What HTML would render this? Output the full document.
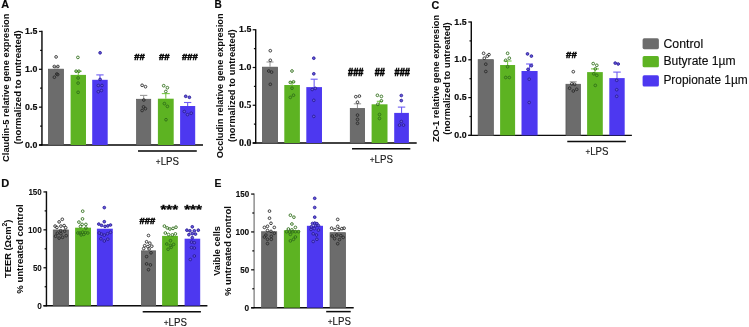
<!DOCTYPE html>
<html><head><meta charset="utf-8"><style>html,body{margin:0;padding:0;background:#fff;width:749px;height:327px;overflow:hidden}svg{display:block}</style></head>
<body>
<svg xmlns="http://www.w3.org/2000/svg" width="749" height="327" viewBox="0 0 749 327">
<defs><filter id="bl" x="0" y="0" width="749" height="327" filterUnits="userSpaceOnUse"><feConvolveMatrix order="3" kernelMatrix="0.00001 0.00381 0.00001 0.00381 0.98471 0.00381 0.00001 0.00381 0.00001" edgeMode="duplicate"/></filter></defs>
<g filter="url(#bl)">
<rect width="749" height="327" fill="#fff"/>
<text x="1.3" y="8.3" font-family="Liberation Sans" font-size="10" font-weight="bold" text-anchor="start" fill="#000" textLength="7.9" lengthAdjust="spacingAndGlyphs" stroke="#000" stroke-width="0.15">A</text>
<text transform="translate(9.4,87.75) rotate(-90)" font-family="Liberation Sans" font-size="9.4" font-weight="bold" text-anchor="middle" fill="#000" stroke="#000" stroke-width="0" textLength="148.3" lengthAdjust="spacingAndGlyphs">Claudin-5 relative gene expresion</text>
<text transform="translate(20.8,87.35) rotate(-90)" font-family="Liberation Sans" font-size="9.4" font-weight="bold" text-anchor="middle" fill="#000" stroke="#000" stroke-width="0" textLength="114" lengthAdjust="spacingAndGlyphs">(normalized to untreated)</text>
<line x1="41.95" y1="30.849999999999998" x2="41.95" y2="145.6" stroke="#000" stroke-width="1.4"/>
<line x1="38.95" y1="145.0" x2="203" y2="145.0" stroke="#000" stroke-width="1.4"/>
<line x1="38.95" y1="145.0" x2="41.95" y2="145.0" stroke="#000" stroke-width="1.2"/>
<line x1="38.95" y1="107.15" x2="41.95" y2="107.15" stroke="#000" stroke-width="1.2"/>
<line x1="38.95" y1="69.3" x2="41.95" y2="69.3" stroke="#000" stroke-width="1.2"/>
<line x1="38.95" y1="31.45" x2="41.95" y2="31.45" stroke="#000" stroke-width="1.2"/>
<line x1="40.150000000000006" y1="126.08" x2="41.95" y2="126.08" stroke="#000" stroke-width="1.2"/>
<line x1="40.150000000000006" y1="88.22" x2="41.95" y2="88.22" stroke="#000" stroke-width="1.2"/>
<line x1="40.150000000000006" y1="50.38" x2="41.95" y2="50.38" stroke="#000" stroke-width="1.2"/>
<text x="37.3" y="34.05" font-family="Liberation Sans" font-size="8.8" font-weight="bold" text-anchor="end" fill="#000" stroke="#000" stroke-width="0.15">1.5</text>
<text x="37.3" y="71.9" font-family="Liberation Sans" font-size="8.8" font-weight="bold" text-anchor="end" fill="#000" stroke="#000" stroke-width="0.15">1.0</text>
<text x="37.3" y="109.75" font-family="Liberation Sans" font-size="8.8" font-weight="bold" text-anchor="end" fill="#000" stroke="#000" stroke-width="0.15">0.5</text>
<text x="37.3" y="147.6" font-family="Liberation Sans" font-size="8.8" font-weight="bold" text-anchor="end" fill="#000" stroke="#000" stroke-width="0.15">0.0</text>
<rect x="48.35" y="69.15" width="15.2" height="75.85" fill="#6c6c6c" stroke="#555" stroke-width="0.7"/>
<line x1="55.95" y1="68.8" x2="55.95" y2="66.8" stroke="#999999" stroke-width="1.1"/>
<line x1="52.95" y1="66.8" x2="58.95" y2="66.8" stroke="#999999" stroke-width="1.1"/>
<rect x="70.6" y="74.9" width="15.4" height="70.1" fill="#5db322"/>
<line x1="78.3" y1="74.9" x2="78.3" y2="71.2" stroke="#78c846" stroke-width="1.1"/>
<line x1="74.8" y1="71.2" x2="81.8" y2="71.2" stroke="#78c846" stroke-width="1.1"/>
<rect x="92.2" y="79.8" width="15.5" height="65.2" fill="#4e39f0"/>
<line x1="99.95" y1="79.8" x2="99.95" y2="74.9" stroke="#6d5cf3" stroke-width="1.1"/>
<line x1="96.3" y1="74.9" x2="103.60000000000001" y2="74.9" stroke="#6d5cf3" stroke-width="1.1"/>
<rect x="136.55" y="99.25" width="14.2" height="45.75" fill="#6c6c6c" stroke="#555" stroke-width="0.7"/>
<line x1="143.64999999999998" y1="98.9" x2="143.64999999999998" y2="95.4" stroke="#999999" stroke-width="1.1"/>
<line x1="139.99999999999997" y1="95.4" x2="147.29999999999998" y2="95.4" stroke="#999999" stroke-width="1.1"/>
<rect x="157.9" y="98.7" width="15.8" height="46.3" fill="#5db322"/>
<line x1="165.8" y1="98.7" x2="165.8" y2="93.6" stroke="#78c846" stroke-width="1.1"/>
<line x1="161.8" y1="93.6" x2="169.8" y2="93.6" stroke="#78c846" stroke-width="1.1"/>
<rect x="180.1" y="106" width="15.1" height="39.0" fill="#4e39f0"/>
<line x1="187.64999999999998" y1="106" x2="187.64999999999998" y2="102.5" stroke="#6d5cf3" stroke-width="1.1"/>
<line x1="183.99999999999997" y1="102.5" x2="191.29999999999998" y2="102.5" stroke="#6d5cf3" stroke-width="1.1"/>
<circle cx="56.1" cy="56.9" r="1.35" fill="none" stroke="#2a2a2a" stroke-width="0.9"/>
<circle cx="54.3" cy="66.5" r="1.35" fill="none" stroke="#2a2a2a" stroke-width="0.9"/>
<circle cx="57.9" cy="66.5" r="1.35" fill="none" stroke="#2a2a2a" stroke-width="0.9"/>
<circle cx="56.8" cy="74" r="1.35" fill="none" stroke="#2a2a2a" stroke-width="0.9"/>
<circle cx="57.7" cy="74.6" r="1.35" fill="none" stroke="#2a2a2a" stroke-width="0.9"/>
<circle cx="54.4" cy="77.2" r="1.35" fill="none" stroke="#2a2a2a" stroke-width="0.9"/>
<circle cx="77.9" cy="57.4" r="1.35" fill="none" stroke="#306e1a" stroke-width="0.9"/>
<circle cx="76.1" cy="71.2" r="1.35" fill="none" stroke="#306e1a" stroke-width="0.9"/>
<circle cx="78.9" cy="71.2" r="1.35" fill="none" stroke="#306e1a" stroke-width="0.9"/>
<circle cx="78.1" cy="78" r="1.35" fill="none" stroke="#306e1a" stroke-width="0.9"/>
<circle cx="78.1" cy="83.1" r="1.35" fill="none" stroke="#306e1a" stroke-width="0.9"/>
<circle cx="78.1" cy="92.3" r="1.35" fill="none" stroke="#306e1a" stroke-width="0.9"/>
<circle cx="100.1" cy="52.8" r="1.35" fill="#6658e0" stroke="#281b95" stroke-width="0.9"/>
<circle cx="100.1" cy="79.4" r="1.35" fill="#6658e0" stroke="#281b95" stroke-width="0.9"/>
<circle cx="98.3" cy="85.5" r="1.35" fill="#6658e0" stroke="#281b95" stroke-width="0.9"/>
<circle cx="102" cy="85.5" r="1.35" fill="#6658e0" stroke="#281b95" stroke-width="0.9"/>
<circle cx="98.3" cy="91.7" r="1.35" fill="#6658e0" stroke="#281b95" stroke-width="0.9"/>
<circle cx="101.4" cy="90.5" r="1.35" fill="#6658e0" stroke="#281b95" stroke-width="0.9"/>
<circle cx="142.1" cy="85.3" r="1.35" fill="none" stroke="#2a2a2a" stroke-width="0.9"/>
<circle cx="145.5" cy="86.7" r="1.35" fill="none" stroke="#2a2a2a" stroke-width="0.9"/>
<circle cx="143.8" cy="100" r="1.35" fill="none" stroke="#2a2a2a" stroke-width="0.9"/>
<circle cx="143.5" cy="106.9" r="1.35" fill="none" stroke="#2a2a2a" stroke-width="0.9"/>
<circle cx="145.4" cy="108.7" r="1.35" fill="none" stroke="#2a2a2a" stroke-width="0.9"/>
<circle cx="142.1" cy="110.5" r="1.35" fill="none" stroke="#2a2a2a" stroke-width="0.9"/>
<circle cx="163.7" cy="85.7" r="1.35" fill="none" stroke="#306e1a" stroke-width="0.9"/>
<circle cx="167.4" cy="87.7" r="1.35" fill="none" stroke="#306e1a" stroke-width="0.9"/>
<circle cx="165.8" cy="91.5" r="1.35" fill="none" stroke="#306e1a" stroke-width="0.9"/>
<circle cx="164.4" cy="103.6" r="1.35" fill="none" stroke="#306e1a" stroke-width="0.9"/>
<circle cx="167.4" cy="106.4" r="1.35" fill="none" stroke="#306e1a" stroke-width="0.9"/>
<circle cx="166" cy="119.7" r="1.35" fill="none" stroke="#306e1a" stroke-width="0.9"/>
<circle cx="185.7" cy="96.3" r="1.35" fill="#6658e0" stroke="#281b95" stroke-width="0.9"/>
<circle cx="189.4" cy="97.3" r="1.35" fill="#6658e0" stroke="#281b95" stroke-width="0.9"/>
<circle cx="184.3" cy="111.5" r="1.35" fill="#6658e0" stroke="#281b95" stroke-width="0.9"/>
<circle cx="187.5" cy="114.6" r="1.35" fill="#6658e0" stroke="#281b95" stroke-width="0.9"/>
<circle cx="191.2" cy="113.2" r="1.35" fill="#6658e0" stroke="#281b95" stroke-width="0.9"/>
<text x="139.5" y="59.8" font-family="Liberation Sans" font-size="9.4" font-weight="bold" text-anchor="middle" fill="#000" textLength="10.6" lengthAdjust="spacingAndGlyphs" stroke="#000" stroke-width="0.55">##</text>
<text x="164.2" y="59.8" font-family="Liberation Sans" font-size="9.4" font-weight="bold" text-anchor="middle" fill="#000" textLength="10.6" lengthAdjust="spacingAndGlyphs" stroke="#000" stroke-width="0.55">##</text>
<text x="189.9" y="59.8" font-family="Liberation Sans" font-size="9.4" font-weight="bold" text-anchor="middle" fill="#000" textLength="15.9" lengthAdjust="spacingAndGlyphs" stroke="#000" stroke-width="0.55">###</text>
<line x1="138" y1="151.0" x2="196.8" y2="151.0" stroke="#000" stroke-width="1.5"/>
<text x="167.4" y="164.8" font-family="Liberation Sans" font-size="10.2" font-weight="normal" text-anchor="middle" fill="#111" textLength="23.1" lengthAdjust="spacingAndGlyphs" stroke="#111" stroke-width="0.12"><tspan font-size="8.6">+</tspan>LPS</text>
<text x="214.4" y="8.3" font-family="Liberation Sans" font-size="10" font-weight="bold" text-anchor="start" fill="#000" textLength="7.3" lengthAdjust="spacingAndGlyphs" stroke="#000" stroke-width="0.15">B</text>
<text transform="translate(223.1,85.8) rotate(-90)" font-family="Liberation Sans" font-size="9.4" font-weight="bold" text-anchor="middle" fill="#000" stroke="#000" stroke-width="0" textLength="144.8" lengthAdjust="spacingAndGlyphs">Occludin relative gene expresion</text>
<text transform="translate(234.5,85.75) rotate(-90)" font-family="Liberation Sans" font-size="9.4" font-weight="bold" text-anchor="middle" fill="#000" stroke="#000" stroke-width="0" textLength="112.6" lengthAdjust="spacingAndGlyphs">(normalized to untreated)</text>
<line x1="255.7" y1="29.15" x2="255.7" y2="143.6" stroke="#000" stroke-width="1.4"/>
<line x1="252.7" y1="143.0" x2="416.7" y2="143.0" stroke="#000" stroke-width="1.4"/>
<line x1="252.7" y1="143.0" x2="255.7" y2="143.0" stroke="#000" stroke-width="1.2"/>
<line x1="252.7" y1="105.25" x2="255.7" y2="105.25" stroke="#000" stroke-width="1.2"/>
<line x1="252.7" y1="67.5" x2="255.7" y2="67.5" stroke="#000" stroke-width="1.2"/>
<line x1="252.7" y1="29.75" x2="255.7" y2="29.75" stroke="#000" stroke-width="1.2"/>
<line x1="253.89999999999998" y1="124.12" x2="255.7" y2="124.12" stroke="#000" stroke-width="1.2"/>
<line x1="253.89999999999998" y1="86.38" x2="255.7" y2="86.38" stroke="#000" stroke-width="1.2"/>
<line x1="253.89999999999998" y1="48.62" x2="255.7" y2="48.62" stroke="#000" stroke-width="1.2"/>
<text x="251.3" y="32.35" font-family="Liberation Sans" font-size="8.8" font-weight="bold" text-anchor="end" fill="#000" stroke="#000" stroke-width="0.15">1.5</text>
<text x="251.3" y="70.1" font-family="Liberation Sans" font-size="8.8" font-weight="bold" text-anchor="end" fill="#000" stroke="#000" stroke-width="0.15">1.0</text>
<text x="251.3" y="107.85" font-family="Liberation Serif" font-size="9.8" font-weight="bold" text-anchor="end" fill="#000" stroke="#000" stroke-width="0.15">0.5</text>
<text x="251.3" y="145.6" font-family="Liberation Serif" font-size="9.8" font-weight="bold" text-anchor="end" fill="#000" stroke="#000" stroke-width="0.15">0.0</text>
<rect x="262.35" y="67.15" width="15.3" height="75.85" fill="#6c6c6c" stroke="#555" stroke-width="0.7"/>
<line x1="270.0" y1="66.8" x2="270.0" y2="62" stroke="#999999" stroke-width="1.1"/>
<line x1="266.5" y1="62" x2="273.5" y2="62" stroke="#999999" stroke-width="1.1"/>
<rect x="284.3" y="85" width="15.6" height="58.0" fill="#5db322"/>
<line x1="292.1" y1="85" x2="292.1" y2="82" stroke="#78c846" stroke-width="1.1"/>
<line x1="289.1" y1="82" x2="295.1" y2="82" stroke="#78c846" stroke-width="1.1"/>
<rect x="306.3" y="87.1" width="15.7" height="55.9" fill="#4e39f0"/>
<line x1="314.15" y1="87.1" x2="314.15" y2="79.2" stroke="#6d5cf3" stroke-width="1.1"/>
<line x1="310.65" y1="79.2" x2="317.65" y2="79.2" stroke="#6d5cf3" stroke-width="1.1"/>
<circle cx="270.3" cy="50.7" r="1.35" fill="none" stroke="#2a2a2a" stroke-width="0.9"/>
<circle cx="270.3" cy="60.3" r="1.35" fill="none" stroke="#2a2a2a" stroke-width="0.9"/>
<circle cx="268.8" cy="71" r="1.35" fill="none" stroke="#2a2a2a" stroke-width="0.9"/>
<circle cx="271.6" cy="72.1" r="1.35" fill="none" stroke="#2a2a2a" stroke-width="0.9"/>
<circle cx="270.3" cy="84.3" r="1.35" fill="none" stroke="#2a2a2a" stroke-width="0.9"/>
<circle cx="292" cy="71" r="1.35" fill="none" stroke="#306e1a" stroke-width="0.9"/>
<circle cx="290.3" cy="82.4" r="1.35" fill="none" stroke="#306e1a" stroke-width="0.9"/>
<circle cx="293.5" cy="81.8" r="1.35" fill="none" stroke="#306e1a" stroke-width="0.9"/>
<circle cx="292" cy="88.2" r="1.35" fill="none" stroke="#306e1a" stroke-width="0.9"/>
<circle cx="290.3" cy="97.4" r="1.35" fill="none" stroke="#306e1a" stroke-width="0.9"/>
<circle cx="293.5" cy="95.2" r="1.35" fill="none" stroke="#306e1a" stroke-width="0.9"/>
<circle cx="313.8" cy="58.2" r="1.35" fill="#6658e0" stroke="#281b95" stroke-width="0.9"/>
<circle cx="313.8" cy="73.8" r="1.35" fill="#6658e0" stroke="#281b95" stroke-width="0.9"/>
<circle cx="312.2" cy="89.5" r="1.35" fill="#6658e0" stroke="#281b95" stroke-width="0.9"/>
<circle cx="315.3" cy="88.4" r="1.35" fill="#6658e0" stroke="#281b95" stroke-width="0.9"/>
<circle cx="313.8" cy="100.3" r="1.35" fill="#6658e0" stroke="#281b95" stroke-width="0.9"/>
<circle cx="313.8" cy="116.4" r="1.35" fill="#6658e0" stroke="#281b95" stroke-width="0.9"/>
<rect x="350.25" y="108.45" width="14.4" height="34.55" fill="#6c6c6c" stroke="#555" stroke-width="0.7"/>
<line x1="357.45" y1="108.1" x2="357.45" y2="103.8" stroke="#999999" stroke-width="1.1"/>
<line x1="353.8" y1="103.8" x2="361.09999999999997" y2="103.8" stroke="#999999" stroke-width="1.1"/>
<rect x="371.6" y="104.3" width="15.9" height="38.7" fill="#5db322"/>
<line x1="379.55" y1="104.3" x2="379.55" y2="101.3" stroke="#78c846" stroke-width="1.1"/>
<line x1="376.8" y1="101.3" x2="382.3" y2="101.3" stroke="#78c846" stroke-width="1.1"/>
<rect x="394.2" y="112.9" width="14.7" height="30.1" fill="#4e39f0"/>
<line x1="401.54999999999995" y1="112.9" x2="401.54999999999995" y2="107.1" stroke="#6d5cf3" stroke-width="1.1"/>
<line x1="397.84999999999997" y1="107.1" x2="405.24999999999994" y2="107.1" stroke="#6d5cf3" stroke-width="1.1"/>
<circle cx="355.8" cy="96.7" r="1.35" fill="none" stroke="#2a2a2a" stroke-width="0.9"/>
<circle cx="359.4" cy="96.1" r="1.35" fill="none" stroke="#2a2a2a" stroke-width="0.9"/>
<circle cx="357.5" cy="102.2" r="1.35" fill="none" stroke="#2a2a2a" stroke-width="0.9"/>
<circle cx="357.5" cy="115.1" r="1.35" fill="none" stroke="#2a2a2a" stroke-width="0.9"/>
<circle cx="357.5" cy="119.4" r="1.35" fill="none" stroke="#2a2a2a" stroke-width="0.9"/>
<circle cx="357.5" cy="123.3" r="1.35" fill="none" stroke="#2a2a2a" stroke-width="0.9"/>
<circle cx="377.4" cy="95.3" r="1.35" fill="none" stroke="#306e1a" stroke-width="0.9"/>
<circle cx="381.4" cy="96.4" r="1.35" fill="none" stroke="#306e1a" stroke-width="0.9"/>
<circle cx="381.4" cy="100.8" r="1.35" fill="none" stroke="#306e1a" stroke-width="0.9"/>
<circle cx="377.8" cy="104.3" r="1.35" fill="none" stroke="#306e1a" stroke-width="0.9"/>
<circle cx="379.5" cy="114.5" r="1.35" fill="none" stroke="#306e1a" stroke-width="0.9"/>
<circle cx="379.5" cy="118.5" r="1.35" fill="none" stroke="#306e1a" stroke-width="0.9"/>
<circle cx="401.3" cy="95.5" r="1.35" fill="#6658e0" stroke="#281b95" stroke-width="0.9"/>
<circle cx="401.3" cy="100.6" r="1.35" fill="#6658e0" stroke="#281b95" stroke-width="0.9"/>
<circle cx="401.3" cy="121.5" r="1.35" fill="#6658e0" stroke="#281b95" stroke-width="0.9"/>
<circle cx="399.5" cy="125.1" r="1.35" fill="#6658e0" stroke="#281b95" stroke-width="0.9"/>
<circle cx="403.5" cy="125.1" r="1.35" fill="#6658e0" stroke="#281b95" stroke-width="0.9"/>
<text x="355.8" y="76.3" font-family="Liberation Sans" font-size="10" font-weight="bold" text-anchor="middle" fill="#000" textLength="15.4" lengthAdjust="spacingAndGlyphs" stroke="#000" stroke-width="0.55">###</text>
<text x="379.7" y="76.3" font-family="Liberation Sans" font-size="10" font-weight="bold" text-anchor="middle" fill="#000" textLength="10.1" lengthAdjust="spacingAndGlyphs" stroke="#000" stroke-width="0.55">##</text>
<text x="402.3" y="76.3" font-family="Liberation Sans" font-size="10" font-weight="bold" text-anchor="middle" fill="#000" textLength="15.4" lengthAdjust="spacingAndGlyphs" stroke="#000" stroke-width="0.55">###</text>
<line x1="352" y1="148.8" x2="410.3" y2="148.8" stroke="#000" stroke-width="1.5"/>
<text x="381.3" y="163.0" font-family="Liberation Sans" font-size="10.2" font-weight="normal" text-anchor="middle" fill="#111" textLength="23.1" lengthAdjust="spacingAndGlyphs" stroke="#111" stroke-width="0.12"><tspan font-size="8.6">+</tspan>LPS</text>
<text x="431.6" y="8.6" font-family="Liberation Sans" font-size="10" font-weight="bold" text-anchor="start" fill="#000" textLength="7.8" lengthAdjust="spacingAndGlyphs" stroke="#000" stroke-width="0.15">C</text>
<text transform="translate(438.8,78.5) rotate(-90)" font-family="Liberation Sans" font-size="9.4" font-weight="bold" text-anchor="middle" fill="#000" stroke="#000" stroke-width="0" textLength="127.2" lengthAdjust="spacingAndGlyphs">ZO-1 relative gene expresion</text>
<text transform="translate(450.2,78.5) rotate(-90)" font-family="Liberation Sans" font-size="9.4" font-weight="bold" text-anchor="middle" fill="#000" stroke="#000" stroke-width="0" textLength="112.5" lengthAdjust="spacingAndGlyphs">(normalized to untreated)</text>
<line x1="471.3" y1="21.4" x2="471.3" y2="136.0" stroke="#000" stroke-width="1.4"/>
<line x1="468.3" y1="135.4" x2="631.9" y2="135.4" stroke="#000" stroke-width="1.4"/>
<line x1="468.3" y1="135.4" x2="471.3" y2="135.4" stroke="#000" stroke-width="1.2"/>
<line x1="468.3" y1="97.6" x2="471.3" y2="97.6" stroke="#000" stroke-width="1.2"/>
<line x1="468.3" y1="59.8" x2="471.3" y2="59.8" stroke="#000" stroke-width="1.2"/>
<line x1="468.3" y1="22.0" x2="471.3" y2="22.0" stroke="#000" stroke-width="1.2"/>
<line x1="469.5" y1="116.5" x2="471.3" y2="116.5" stroke="#000" stroke-width="1.2"/>
<line x1="469.5" y1="78.7" x2="471.3" y2="78.7" stroke="#000" stroke-width="1.2"/>
<line x1="469.5" y1="40.9" x2="471.3" y2="40.9" stroke="#000" stroke-width="1.2"/>
<text x="466.6" y="24.6" font-family="Liberation Sans" font-size="8.8" font-weight="bold" text-anchor="end" fill="#000" stroke="#000" stroke-width="0.15">1.5</text>
<text x="466.6" y="62.4" font-family="Liberation Sans" font-size="8.8" font-weight="bold" text-anchor="end" fill="#000" stroke="#000" stroke-width="0.15">1.0</text>
<text x="466.6" y="100.2" font-family="Liberation Sans" font-size="8.8" font-weight="bold" text-anchor="end" fill="#000" stroke="#000" stroke-width="0.15">0.5</text>
<text x="466.6" y="138.0" font-family="Liberation Sans" font-size="8.8" font-weight="bold" text-anchor="end" fill="#000" stroke="#000" stroke-width="0.15">0.0</text>
<rect x="478.15" y="59.65" width="15.2" height="75.75" fill="#6c6c6c" stroke="#555" stroke-width="0.7"/>
<rect x="500.1" y="65" width="15.0" height="70.4" fill="#5db322"/>
<line x1="507.6" y1="65" x2="507.6" y2="61" stroke="#78c846" stroke-width="1.1"/>
<line x1="503.6" y1="61" x2="511.6" y2="61" stroke="#78c846" stroke-width="1.1"/>
<rect x="521.5" y="71" width="16.1" height="64.4" fill="#4e39f0"/>
<line x1="529.55" y1="71" x2="529.55" y2="64" stroke="#6d5cf3" stroke-width="1.1"/>
<line x1="526.05" y1="64" x2="533.05" y2="64" stroke="#6d5cf3" stroke-width="1.1"/>
<circle cx="483.6" cy="53.3" r="1.35" fill="none" stroke="#2a2a2a" stroke-width="0.9"/>
<circle cx="484.3" cy="58.2" r="1.35" fill="none" stroke="#2a2a2a" stroke-width="0.9"/>
<circle cx="487.3" cy="56.1" r="1.35" fill="none" stroke="#2a2a2a" stroke-width="0.9"/>
<circle cx="489" cy="54.6" r="1.35" fill="none" stroke="#2a2a2a" stroke-width="0.9"/>
<circle cx="485.8" cy="64.2" r="1.35" fill="none" stroke="#2a2a2a" stroke-width="0.9"/>
<circle cx="485.8" cy="71.5" r="1.35" fill="none" stroke="#2a2a2a" stroke-width="0.9"/>
<circle cx="507.6" cy="53.3" r="1.35" fill="none" stroke="#306e1a" stroke-width="0.9"/>
<circle cx="505.7" cy="60.3" r="1.35" fill="none" stroke="#306e1a" stroke-width="0.9"/>
<circle cx="509.3" cy="58.2" r="1.35" fill="none" stroke="#306e1a" stroke-width="0.9"/>
<circle cx="507.6" cy="66.8" r="1.35" fill="none" stroke="#306e1a" stroke-width="0.9"/>
<circle cx="505.7" cy="77.5" r="1.35" fill="none" stroke="#306e1a" stroke-width="0.9"/>
<circle cx="509.3" cy="77.5" r="1.35" fill="none" stroke="#306e1a" stroke-width="0.9"/>
<circle cx="527.5" cy="53.9" r="1.35" fill="#6658e0" stroke="#281b95" stroke-width="0.9"/>
<circle cx="531.4" cy="56.1" r="1.35" fill="#6658e0" stroke="#281b95" stroke-width="0.9"/>
<circle cx="531.4" cy="65.7" r="1.35" fill="#6658e0" stroke="#281b95" stroke-width="0.9"/>
<circle cx="528" cy="69.3" r="1.35" fill="#6658e0" stroke="#281b95" stroke-width="0.9"/>
<circle cx="529.2" cy="79.2" r="1.35" fill="#6658e0" stroke="#281b95" stroke-width="0.9"/>
<circle cx="529.2" cy="102.5" r="1.35" fill="#6658e0" stroke="#281b95" stroke-width="0.9"/>
<rect x="565.95" y="84.25" width="14.6" height="51.15" fill="#6c6c6c" stroke="#555" stroke-width="0.7"/>
<line x1="573.25" y1="83.9" x2="573.25" y2="81.8" stroke="#999999" stroke-width="1.1"/>
<line x1="569.75" y1="81.8" x2="576.75" y2="81.8" stroke="#999999" stroke-width="1.1"/>
<rect x="587.1" y="72.1" width="15.7" height="63.3" fill="#5db322"/>
<line x1="594.95" y1="72.1" x2="594.95" y2="68.9" stroke="#78c846" stroke-width="1.1"/>
<line x1="590.95" y1="68.9" x2="598.95" y2="68.9" stroke="#78c846" stroke-width="1.1"/>
<rect x="609.3" y="78.1" width="15.4" height="57.3" fill="#4e39f0"/>
<line x1="617.0" y1="78.1" x2="617.0" y2="72.1" stroke="#6d5cf3" stroke-width="1.1"/>
<line x1="613.25" y1="72.1" x2="620.75" y2="72.1" stroke="#6d5cf3" stroke-width="1.1"/>
<circle cx="573.3" cy="71.7" r="1.35" fill="none" stroke="#2a2a2a" stroke-width="0.9"/>
<circle cx="571.8" cy="83.9" r="1.35" fill="none" stroke="#2a2a2a" stroke-width="0.9"/>
<circle cx="574.6" cy="84.3" r="1.35" fill="none" stroke="#2a2a2a" stroke-width="0.9"/>
<circle cx="569.6" cy="88.2" r="1.35" fill="none" stroke="#2a2a2a" stroke-width="0.9"/>
<circle cx="573.3" cy="91" r="1.35" fill="none" stroke="#2a2a2a" stroke-width="0.9"/>
<circle cx="576.7" cy="89.3" r="1.35" fill="none" stroke="#2a2a2a" stroke-width="0.9"/>
<circle cx="593.2" cy="63.6" r="1.35" fill="none" stroke="#306e1a" stroke-width="0.9"/>
<circle cx="596.8" cy="65.3" r="1.35" fill="none" stroke="#306e1a" stroke-width="0.9"/>
<circle cx="595.3" cy="68.9" r="1.35" fill="none" stroke="#306e1a" stroke-width="0.9"/>
<circle cx="593.8" cy="73.8" r="1.35" fill="none" stroke="#306e1a" stroke-width="0.9"/>
<circle cx="596.8" cy="75.3" r="1.35" fill="none" stroke="#306e1a" stroke-width="0.9"/>
<circle cx="595.3" cy="85.4" r="1.35" fill="none" stroke="#306e1a" stroke-width="0.9"/>
<circle cx="615.2" cy="63.1" r="1.35" fill="#6658e0" stroke="#281b95" stroke-width="0.9"/>
<circle cx="618.2" cy="64" r="1.35" fill="#6658e0" stroke="#281b95" stroke-width="0.9"/>
<circle cx="616.7" cy="80.3" r="1.35" fill="#6658e0" stroke="#281b95" stroke-width="0.9"/>
<circle cx="616.7" cy="89.7" r="1.35" fill="#6658e0" stroke="#281b95" stroke-width="0.9"/>
<circle cx="616.7" cy="96.3" r="1.35" fill="#6658e0" stroke="#281b95" stroke-width="0.9"/>
<text x="571.4" y="58.1" font-family="Liberation Sans" font-size="9.4" font-weight="bold" text-anchor="middle" fill="#000" textLength="10.6" lengthAdjust="spacingAndGlyphs" stroke="#000" stroke-width="0.55">##</text>
<line x1="567.3" y1="141.4" x2="625.9" y2="141.4" stroke="#000" stroke-width="1.5"/>
<text x="597.0" y="155.4" font-family="Liberation Sans" font-size="10.2" font-weight="normal" text-anchor="middle" fill="#111" textLength="23.1" lengthAdjust="spacingAndGlyphs" stroke="#111" stroke-width="0.12"><tspan font-size="8.6">+</tspan>LPS</text>
<rect x="642.6" y="38.3" width="16.3" height="10.9" rx="1.6" fill="#6c6c6c"/>
<text x="663.4" y="47.8" font-family="Liberation Sans" font-size="12" font-weight="normal" text-anchor="start" fill="#000" textLength="39.8" lengthAdjust="spacingAndGlyphs" stroke="#000" stroke-width="0.1">Control</text>
<rect x="642.6" y="56.1" width="16.3" height="11.2" rx="1.6" fill="#5db322"/>
<text x="663.4" y="64.9" font-family="Liberation Sans" font-size="12" font-weight="normal" text-anchor="start" fill="#000" textLength="72.2" lengthAdjust="spacingAndGlyphs" stroke="#000" stroke-width="0.1">Butyrate 1µm</text>
<rect x="642.6" y="75.3" width="16.3" height="11.2" rx="1.6" fill="#4e39f0"/>
<text x="663.4" y="83.6" font-family="Liberation Sans" font-size="12" font-weight="normal" text-anchor="start" fill="#000" textLength="84.4" lengthAdjust="spacingAndGlyphs" stroke="#000" stroke-width="0.1">Propionate 1µm</text>
<text x="1.2" y="187.3" font-family="Liberation Sans" font-size="10" font-weight="bold" text-anchor="start" fill="#000" textLength="8" lengthAdjust="spacingAndGlyphs" stroke="#000" stroke-width="0.15">D</text>
<text transform="translate(10.9,248.8) rotate(-90)" font-family="Liberation Sans" font-size="9.4" font-weight="bold" text-anchor="middle" fill="#000" textLength="58.4" lengthAdjust="spacingAndGlyphs">TEER (Ωcm<tspan dy="-3.9" font-size="6.8">2</tspan><tspan dy="3.9">)</tspan></text>
<text transform="translate(22.8,249) rotate(-90)" font-family="Liberation Sans" font-size="9.4" font-weight="bold" text-anchor="middle" fill="#000" stroke="#000" stroke-width="0" textLength="89.4" lengthAdjust="spacingAndGlyphs">% untreated control</text>
<line x1="46.45" y1="191.33" x2="46.45" y2="306.3" stroke="#000" stroke-width="1.4"/>
<line x1="43.45" y1="305.7" x2="207.4" y2="305.7" stroke="#000" stroke-width="1.4"/>
<line x1="43.45" y1="305.7" x2="46.45" y2="305.7" stroke="#000" stroke-width="1.2"/>
<line x1="43.45" y1="267.77" x2="46.45" y2="267.77" stroke="#000" stroke-width="1.2"/>
<line x1="43.45" y1="229.85" x2="46.45" y2="229.85" stroke="#000" stroke-width="1.2"/>
<line x1="43.45" y1="191.93" x2="46.45" y2="191.93" stroke="#000" stroke-width="1.2"/>
<line x1="44.650000000000006" y1="286.74" x2="46.45" y2="286.74" stroke="#000" stroke-width="1.2"/>
<line x1="44.650000000000006" y1="248.81" x2="46.45" y2="248.81" stroke="#000" stroke-width="1.2"/>
<line x1="44.650000000000006" y1="210.89" x2="46.45" y2="210.89" stroke="#000" stroke-width="1.2"/>
<text x="41.8" y="194.93" font-family="Liberation Sans" font-size="9.3" font-weight="bold" text-anchor="end" fill="#000" textLength="13.4" lengthAdjust="spacingAndGlyphs" stroke="#000" stroke-width="0">150</text>
<text x="41.8" y="232.85" font-family="Liberation Sans" font-size="9.3" font-weight="bold" text-anchor="end" fill="#000" textLength="13.8" lengthAdjust="spacingAndGlyphs" stroke="#000" stroke-width="0">100</text>
<text x="41.8" y="270.77" font-family="Liberation Sans" font-size="9.3" font-weight="bold" text-anchor="end" fill="#000" textLength="8.9" lengthAdjust="spacingAndGlyphs" stroke="#000" stroke-width="0">50</text>
<text x="41.8" y="308.7" font-family="Liberation Sans" font-size="9.3" font-weight="bold" text-anchor="end" fill="#000" textLength="4.6" lengthAdjust="spacingAndGlyphs" stroke="#000" stroke-width="0">0</text>
<rect x="53.25" y="229.95" width="15.3" height="75.75" fill="#6c6c6c" stroke="#555" stroke-width="0.7"/>
<rect x="75.1" y="227.7" width="15.9" height="78.0" fill="#5db322"/>
<rect x="96.9" y="228.7" width="15.9" height="77.0" fill="#4e39f0"/>
<circle cx="62.3" cy="219.3" r="1.35" fill="none" stroke="#2a2a2a" stroke-width="0.9"/>
<circle cx="59.1" cy="221.9" r="1.35" fill="none" stroke="#2a2a2a" stroke-width="0.9"/>
<circle cx="55.1" cy="226.1" r="1.35" fill="none" stroke="#2a2a2a" stroke-width="0.9"/>
<circle cx="56.9" cy="227.4" r="1.35" fill="none" stroke="#2a2a2a" stroke-width="0.9"/>
<circle cx="60.9" cy="226.1" r="1.35" fill="none" stroke="#2a2a2a" stroke-width="0.9"/>
<circle cx="64.1" cy="225.6" r="1.35" fill="none" stroke="#2a2a2a" stroke-width="0.9"/>
<circle cx="65.7" cy="227.7" r="1.35" fill="none" stroke="#2a2a2a" stroke-width="0.9"/>
<circle cx="60.6" cy="230.7" r="1.35" fill="none" stroke="#2a2a2a" stroke-width="0.9"/>
<circle cx="64.6" cy="231.2" r="1.35" fill="none" stroke="#2a2a2a" stroke-width="0.9"/>
<circle cx="57.3" cy="233.2" r="1.35" fill="none" stroke="#2a2a2a" stroke-width="0.9"/>
<circle cx="60.9" cy="233.7" r="1.35" fill="none" stroke="#2a2a2a" stroke-width="0.9"/>
<circle cx="55.6" cy="236.2" r="1.35" fill="none" stroke="#2a2a2a" stroke-width="0.9"/>
<circle cx="66.2" cy="235.7" r="1.35" fill="none" stroke="#2a2a2a" stroke-width="0.9"/>
<circle cx="59.1" cy="238.1" r="1.35" fill="none" stroke="#2a2a2a" stroke-width="0.9"/>
<circle cx="62.6" cy="237.3" r="1.35" fill="none" stroke="#2a2a2a" stroke-width="0.9"/>
<circle cx="82.7" cy="211.2" r="1.35" fill="none" stroke="#306e1a" stroke-width="0.9"/>
<circle cx="82.5" cy="218.9" r="1.35" fill="none" stroke="#306e1a" stroke-width="0.9"/>
<circle cx="78.9" cy="222.1" r="1.35" fill="none" stroke="#306e1a" stroke-width="0.9"/>
<circle cx="82.1" cy="224.4" r="1.35" fill="none" stroke="#306e1a" stroke-width="0.9"/>
<circle cx="85.9" cy="224.4" r="1.35" fill="none" stroke="#306e1a" stroke-width="0.9"/>
<circle cx="80.5" cy="226.4" r="1.35" fill="none" stroke="#306e1a" stroke-width="0.9"/>
<circle cx="85.9" cy="228" r="1.35" fill="none" stroke="#306e1a" stroke-width="0.9"/>
<circle cx="77.9" cy="233" r="1.35" fill="none" stroke="#306e1a" stroke-width="0.9"/>
<circle cx="80" cy="233" r="1.35" fill="none" stroke="#306e1a" stroke-width="0.9"/>
<circle cx="82.7" cy="232.2" r="1.35" fill="none" stroke="#306e1a" stroke-width="0.9"/>
<circle cx="85.4" cy="232.6" r="1.35" fill="none" stroke="#306e1a" stroke-width="0.9"/>
<circle cx="87.8" cy="233" r="1.35" fill="none" stroke="#306e1a" stroke-width="0.9"/>
<circle cx="81.1" cy="234.9" r="1.35" fill="none" stroke="#306e1a" stroke-width="0.9"/>
<circle cx="83.8" cy="234.4" r="1.35" fill="none" stroke="#306e1a" stroke-width="0.9"/>
<circle cx="104.3" cy="207.6" r="1.35" fill="#6658e0" stroke="#281b95" stroke-width="0.9"/>
<circle cx="104.3" cy="221.7" r="1.35" fill="#6658e0" stroke="#281b95" stroke-width="0.9"/>
<circle cx="98.8" cy="224.1" r="1.35" fill="#6658e0" stroke="#281b95" stroke-width="0.9"/>
<circle cx="101.6" cy="225.4" r="1.35" fill="#6658e0" stroke="#281b95" stroke-width="0.9"/>
<circle cx="105" cy="226.4" r="1.35" fill="#6658e0" stroke="#281b95" stroke-width="0.9"/>
<circle cx="107.8" cy="225.9" r="1.35" fill="#6658e0" stroke="#281b95" stroke-width="0.9"/>
<circle cx="110.5" cy="225" r="1.35" fill="#6658e0" stroke="#281b95" stroke-width="0.9"/>
<circle cx="99.2" cy="233" r="1.35" fill="#6658e0" stroke="#281b95" stroke-width="0.9"/>
<circle cx="101.6" cy="234.1" r="1.35" fill="#6658e0" stroke="#281b95" stroke-width="0.9"/>
<circle cx="104.3" cy="235.1" r="1.35" fill="#6658e0" stroke="#281b95" stroke-width="0.9"/>
<circle cx="107.5" cy="233.7" r="1.35" fill="#6658e0" stroke="#281b95" stroke-width="0.9"/>
<circle cx="110.5" cy="232.3" r="1.35" fill="#6658e0" stroke="#281b95" stroke-width="0.9"/>
<circle cx="100.9" cy="238.8" r="1.35" fill="#6658e0" stroke="#281b95" stroke-width="0.9"/>
<circle cx="104.3" cy="241" r="1.35" fill="#6658e0" stroke="#281b95" stroke-width="0.9"/>
<circle cx="107.8" cy="239.2" r="1.35" fill="#6658e0" stroke="#281b95" stroke-width="0.9"/>
<rect x="141.35" y="250.85" width="14.3" height="54.85" fill="#6c6c6c" stroke="#555" stroke-width="0.7"/>
<rect x="162.1" y="235.9" width="15.8" height="69.8" fill="#5db322"/>
<rect x="184.6" y="238.7" width="15.6" height="67.0" fill="#4e39f0"/>
<circle cx="148.5" cy="235.5" r="1.35" fill="none" stroke="#2a2a2a" stroke-width="0.9"/>
<circle cx="146.6" cy="241.8" r="1.35" fill="none" stroke="#2a2a2a" stroke-width="0.9"/>
<circle cx="149.8" cy="243.2" r="1.35" fill="none" stroke="#2a2a2a" stroke-width="0.9"/>
<circle cx="144.7" cy="245.7" r="1.35" fill="none" stroke="#2a2a2a" stroke-width="0.9"/>
<circle cx="147.9" cy="246.6" r="1.35" fill="none" stroke="#2a2a2a" stroke-width="0.9"/>
<circle cx="151.8" cy="246.2" r="1.35" fill="none" stroke="#2a2a2a" stroke-width="0.9"/>
<circle cx="143.7" cy="248.5" r="1.35" fill="none" stroke="#2a2a2a" stroke-width="0.9"/>
<circle cx="149.1" cy="248.9" r="1.35" fill="none" stroke="#2a2a2a" stroke-width="0.9"/>
<circle cx="151" cy="252.8" r="1.35" fill="none" stroke="#2a2a2a" stroke-width="0.9"/>
<circle cx="146.6" cy="256.6" r="1.35" fill="none" stroke="#2a2a2a" stroke-width="0.9"/>
<circle cx="146.6" cy="263.9" r="1.35" fill="none" stroke="#2a2a2a" stroke-width="0.9"/>
<circle cx="150.4" cy="264.9" r="1.35" fill="none" stroke="#2a2a2a" stroke-width="0.9"/>
<circle cx="148.5" cy="269.7" r="1.35" fill="none" stroke="#2a2a2a" stroke-width="0.9"/>
<circle cx="164.4" cy="226.1" r="1.35" fill="none" stroke="#306e1a" stroke-width="0.9"/>
<circle cx="167.2" cy="227.9" r="1.35" fill="none" stroke="#306e1a" stroke-width="0.9"/>
<circle cx="169.9" cy="229" r="1.35" fill="none" stroke="#306e1a" stroke-width="0.9"/>
<circle cx="173" cy="228.4" r="1.35" fill="none" stroke="#306e1a" stroke-width="0.9"/>
<circle cx="176" cy="227.2" r="1.35" fill="none" stroke="#306e1a" stroke-width="0.9"/>
<circle cx="165.3" cy="233" r="1.35" fill="none" stroke="#306e1a" stroke-width="0.9"/>
<circle cx="168.6" cy="234.5" r="1.35" fill="none" stroke="#306e1a" stroke-width="0.9"/>
<circle cx="172.3" cy="234.9" r="1.35" fill="none" stroke="#306e1a" stroke-width="0.9"/>
<circle cx="175.4" cy="233.9" r="1.35" fill="none" stroke="#306e1a" stroke-width="0.9"/>
<circle cx="170.5" cy="240.7" r="1.35" fill="none" stroke="#306e1a" stroke-width="0.9"/>
<circle cx="166.8" cy="244" r="1.35" fill="none" stroke="#306e1a" stroke-width="0.9"/>
<circle cx="170.5" cy="245.5" r="1.35" fill="none" stroke="#306e1a" stroke-width="0.9"/>
<circle cx="173.6" cy="244.4" r="1.35" fill="none" stroke="#306e1a" stroke-width="0.9"/>
<circle cx="171.2" cy="247.3" r="1.35" fill="none" stroke="#306e1a" stroke-width="0.9"/>
<circle cx="168.1" cy="249.2" r="1.35" fill="none" stroke="#306e1a" stroke-width="0.9"/>
<circle cx="192.3" cy="226.8" r="1.35" fill="#6658e0" stroke="#281b95" stroke-width="0.9"/>
<circle cx="186.9" cy="230.2" r="1.35" fill="#6658e0" stroke="#281b95" stroke-width="0.9"/>
<circle cx="189.9" cy="230.8" r="1.35" fill="#6658e0" stroke="#281b95" stroke-width="0.9"/>
<circle cx="194.3" cy="230.8" r="1.35" fill="#6658e0" stroke="#281b95" stroke-width="0.9"/>
<circle cx="198.3" cy="230.2" r="1.35" fill="#6658e0" stroke="#281b95" stroke-width="0.9"/>
<circle cx="188.9" cy="234.7" r="1.35" fill="#6658e0" stroke="#281b95" stroke-width="0.9"/>
<circle cx="192.3" cy="233.7" r="1.35" fill="#6658e0" stroke="#281b95" stroke-width="0.9"/>
<circle cx="195.5" cy="234.1" r="1.35" fill="#6658e0" stroke="#281b95" stroke-width="0.9"/>
<circle cx="192.3" cy="237.7" r="1.35" fill="#6658e0" stroke="#281b95" stroke-width="0.9"/>
<circle cx="191.5" cy="242.1" r="1.35" fill="#6658e0" stroke="#281b95" stroke-width="0.9"/>
<circle cx="194.3" cy="242.7" r="1.35" fill="#6658e0" stroke="#281b95" stroke-width="0.9"/>
<circle cx="191.5" cy="247.6" r="1.35" fill="#6658e0" stroke="#281b95" stroke-width="0.9"/>
<circle cx="194.3" cy="248" r="1.35" fill="#6658e0" stroke="#281b95" stroke-width="0.9"/>
<circle cx="194.3" cy="256" r="1.35" fill="#6658e0" stroke="#281b95" stroke-width="0.9"/>
<circle cx="190.3" cy="259.5" r="1.35" fill="#6658e0" stroke="#281b95" stroke-width="0.9"/>
<text x="147.4" y="224.3" font-family="Liberation Sans" font-size="9.4" font-weight="bold" text-anchor="middle" fill="#000" textLength="15.7" lengthAdjust="spacingAndGlyphs" stroke="#000" stroke-width="0.55">###</text>
<text x="169.3" y="213.9" font-family="Liberation Sans" font-size="12.3" font-weight="bold" text-anchor="middle" fill="#000" textLength="17.7" lengthAdjust="spacingAndGlyphs" stroke="#000" stroke-width="0.3">***</text>
<text x="193.1" y="213.9" font-family="Liberation Sans" font-size="12.3" font-weight="bold" text-anchor="middle" fill="#000" textLength="17.9" lengthAdjust="spacingAndGlyphs" stroke="#000" stroke-width="0.3">***</text>
<line x1="142.7" y1="311.8" x2="200.9" y2="311.8" stroke="#000" stroke-width="1.5"/>
<text x="175.3" y="326.0" font-family="Liberation Sans" font-size="10.2" font-weight="normal" text-anchor="middle" fill="#111" textLength="23.1" lengthAdjust="spacingAndGlyphs" stroke="#111" stroke-width="0.12"><tspan font-size="8.6">+</tspan>LPS</text>
<text x="214.4" y="187.4" font-family="Liberation Sans" font-size="10" font-weight="bold" text-anchor="start" fill="#000" textLength="6.9" lengthAdjust="spacingAndGlyphs" stroke="#000" stroke-width="0.15">E</text>
<text transform="translate(219.6,250.9) rotate(-90)" font-family="Liberation Sans" font-size="9.4" font-weight="bold" text-anchor="middle" fill="#000" stroke="#000" stroke-width="0" textLength="49.8" lengthAdjust="spacingAndGlyphs">Vaible cells</text>
<text transform="translate(230.5,251.1) rotate(-90)" font-family="Liberation Sans" font-size="9.4" font-weight="bold" text-anchor="middle" fill="#000" stroke="#000" stroke-width="0" textLength="90" lengthAdjust="spacingAndGlyphs">% untreated control</text>
<line x1="254.1" y1="193.46" x2="254.1" y2="308.3" stroke="#666" stroke-width="1.1"/>
<line x1="251.1" y1="307.7" x2="353.7" y2="307.7" stroke="#000" stroke-width="1.4"/>
<line x1="251.1" y1="307.7" x2="254.1" y2="307.7" stroke="#000" stroke-width="1.2"/>
<line x1="251.1" y1="269.82" x2="254.1" y2="269.82" stroke="#000" stroke-width="1.2"/>
<line x1="251.1" y1="231.94" x2="254.1" y2="231.94" stroke="#000" stroke-width="1.2"/>
<line x1="251.1" y1="194.06" x2="254.1" y2="194.06" stroke="#000" stroke-width="1.2"/>
<line x1="252.29999999999998" y1="288.76" x2="254.1" y2="288.76" stroke="#000" stroke-width="1.2"/>
<line x1="252.29999999999998" y1="250.88" x2="254.1" y2="250.88" stroke="#000" stroke-width="1.2"/>
<line x1="252.29999999999998" y1="213.0" x2="254.1" y2="213.0" stroke="#000" stroke-width="1.2"/>
<text x="249.2" y="197.06" font-family="Liberation Sans" font-size="9.3" font-weight="bold" text-anchor="end" fill="#000" textLength="13.4" lengthAdjust="spacingAndGlyphs" stroke="#000" stroke-width="0.1">150</text>
<text x="249.2" y="234.94" font-family="Liberation Sans" font-size="9.3" font-weight="bold" text-anchor="end" fill="#000" textLength="13.8" lengthAdjust="spacingAndGlyphs" stroke="#000" stroke-width="0.1">100</text>
<text x="249.2" y="272.82" font-family="Liberation Sans" font-size="9.3" font-weight="bold" text-anchor="end" fill="#000" textLength="8.9" lengthAdjust="spacingAndGlyphs" stroke="#000" stroke-width="0.1">50</text>
<text x="249.2" y="310.7" font-family="Liberation Sans" font-size="9.3" font-weight="bold" text-anchor="end" fill="#000" textLength="4.6" lengthAdjust="spacingAndGlyphs" stroke="#000" stroke-width="0.1">0</text>
<rect x="261.65" y="231.75" width="15.1" height="75.95" fill="#6c6c6c" stroke="#555" stroke-width="0.7"/>
<rect x="283.9" y="230.2" width="16.1" height="77.5" fill="#5db322"/>
<rect x="306.9" y="225.8" width="16.1" height="81.9" fill="#4e39f0"/>
<rect x="330.05" y="232.65" width="15.5" height="75.05" fill="#6c6c6c" stroke="#555" stroke-width="0.7"/>
<circle cx="269.5" cy="211.1" r="1.35" fill="none" stroke="#2a2a2a" stroke-width="0.9"/>
<circle cx="269.5" cy="218.2" r="1.35" fill="none" stroke="#2a2a2a" stroke-width="0.9"/>
<circle cx="271" cy="223.3" r="1.35" fill="none" stroke="#2a2a2a" stroke-width="0.9"/>
<circle cx="264.4" cy="227.4" r="1.35" fill="none" stroke="#2a2a2a" stroke-width="0.9"/>
<circle cx="267.5" cy="226.3" r="1.35" fill="none" stroke="#2a2a2a" stroke-width="0.9"/>
<circle cx="274.3" cy="227.4" r="1.35" fill="none" stroke="#2a2a2a" stroke-width="0.9"/>
<circle cx="267.5" cy="230.5" r="1.35" fill="none" stroke="#2a2a2a" stroke-width="0.9"/>
<circle cx="271" cy="231.4" r="1.35" fill="none" stroke="#2a2a2a" stroke-width="0.9"/>
<circle cx="274.3" cy="233.2" r="1.35" fill="none" stroke="#2a2a2a" stroke-width="0.9"/>
<circle cx="265.9" cy="235.1" r="1.35" fill="none" stroke="#2a2a2a" stroke-width="0.9"/>
<circle cx="264.4" cy="237" r="1.35" fill="none" stroke="#2a2a2a" stroke-width="0.9"/>
<circle cx="271.3" cy="236.3" r="1.35" fill="none" stroke="#2a2a2a" stroke-width="0.9"/>
<circle cx="271.3" cy="239.3" r="1.35" fill="none" stroke="#2a2a2a" stroke-width="0.9"/>
<circle cx="267.5" cy="239.3" r="1.35" fill="none" stroke="#2a2a2a" stroke-width="0.9"/>
<circle cx="267.5" cy="243.6" r="1.35" fill="none" stroke="#2a2a2a" stroke-width="0.9"/>
<circle cx="290.4" cy="215.2" r="1.35" fill="none" stroke="#306e1a" stroke-width="0.9"/>
<circle cx="293.9" cy="217.2" r="1.35" fill="none" stroke="#306e1a" stroke-width="0.9"/>
<circle cx="291.9" cy="224" r="1.35" fill="none" stroke="#306e1a" stroke-width="0.9"/>
<circle cx="295.4" cy="227.4" r="1.35" fill="none" stroke="#306e1a" stroke-width="0.9"/>
<circle cx="288.4" cy="229" r="1.35" fill="none" stroke="#306e1a" stroke-width="0.9"/>
<circle cx="291.9" cy="229.9" r="1.35" fill="none" stroke="#306e1a" stroke-width="0.9"/>
<circle cx="286.6" cy="231.7" r="1.35" fill="none" stroke="#306e1a" stroke-width="0.9"/>
<circle cx="289.6" cy="232" r="1.35" fill="none" stroke="#306e1a" stroke-width="0.9"/>
<circle cx="292.7" cy="231.7" r="1.35" fill="none" stroke="#306e1a" stroke-width="0.9"/>
<circle cx="295.4" cy="231.7" r="1.35" fill="none" stroke="#306e1a" stroke-width="0.9"/>
<circle cx="298.5" cy="231.7" r="1.35" fill="none" stroke="#306e1a" stroke-width="0.9"/>
<circle cx="290.4" cy="234.4" r="1.35" fill="none" stroke="#306e1a" stroke-width="0.9"/>
<circle cx="295.4" cy="237" r="1.35" fill="none" stroke="#306e1a" stroke-width="0.9"/>
<circle cx="293.5" cy="239.3" r="1.35" fill="none" stroke="#306e1a" stroke-width="0.9"/>
<circle cx="290.4" cy="240.9" r="1.35" fill="none" stroke="#306e1a" stroke-width="0.9"/>
<circle cx="314.7" cy="198.3" r="1.35" fill="#6658e0" stroke="#281b95" stroke-width="0.9"/>
<circle cx="314.7" cy="207.5" r="1.35" fill="#6658e0" stroke="#281b95" stroke-width="0.9"/>
<circle cx="314.7" cy="217.2" r="1.35" fill="#6658e0" stroke="#281b95" stroke-width="0.9"/>
<circle cx="312.5" cy="223.5" r="1.35" fill="#6658e0" stroke="#281b95" stroke-width="0.9"/>
<circle cx="314.7" cy="223.1" r="1.35" fill="#6658e0" stroke="#281b95" stroke-width="0.9"/>
<circle cx="316.9" cy="223.6" r="1.35" fill="#6658e0" stroke="#281b95" stroke-width="0.9"/>
<circle cx="311.4" cy="226.8" r="1.35" fill="#6658e0" stroke="#281b95" stroke-width="0.9"/>
<circle cx="315.6" cy="225.8" r="1.35" fill="#6658e0" stroke="#281b95" stroke-width="0.9"/>
<circle cx="318.4" cy="225.5" r="1.35" fill="#6658e0" stroke="#281b95" stroke-width="0.9"/>
<circle cx="311" cy="229.5" r="1.35" fill="#6658e0" stroke="#281b95" stroke-width="0.9"/>
<circle cx="314.3" cy="228.6" r="1.35" fill="#6658e0" stroke="#281b95" stroke-width="0.9"/>
<circle cx="318.4" cy="230.1" r="1.35" fill="#6658e0" stroke="#281b95" stroke-width="0.9"/>
<circle cx="313.2" cy="233.8" r="1.35" fill="#6658e0" stroke="#281b95" stroke-width="0.9"/>
<circle cx="316.5" cy="235" r="1.35" fill="#6658e0" stroke="#281b95" stroke-width="0.9"/>
<circle cx="316.9" cy="239.3" r="1.35" fill="#6658e0" stroke="#281b95" stroke-width="0.9"/>
<circle cx="313.2" cy="241.5" r="1.35" fill="#6658e0" stroke="#281b95" stroke-width="0.9"/>
<circle cx="337.7" cy="219.4" r="1.35" fill="none" stroke="#2a2a2a" stroke-width="0.9"/>
<circle cx="337.7" cy="226.4" r="1.35" fill="none" stroke="#2a2a2a" stroke-width="0.9"/>
<circle cx="331.6" cy="228.2" r="1.35" fill="none" stroke="#2a2a2a" stroke-width="0.9"/>
<circle cx="334.9" cy="229.5" r="1.35" fill="none" stroke="#2a2a2a" stroke-width="0.9"/>
<circle cx="339" cy="229.5" r="1.35" fill="none" stroke="#2a2a2a" stroke-width="0.9"/>
<circle cx="341.9" cy="228.6" r="1.35" fill="none" stroke="#2a2a2a" stroke-width="0.9"/>
<circle cx="344.1" cy="228.2" r="1.35" fill="none" stroke="#2a2a2a" stroke-width="0.9"/>
<circle cx="332.2" cy="236" r="1.35" fill="none" stroke="#2a2a2a" stroke-width="0.9"/>
<circle cx="336.8" cy="235" r="1.35" fill="none" stroke="#2a2a2a" stroke-width="0.9"/>
<circle cx="340.8" cy="235.6" r="1.35" fill="none" stroke="#2a2a2a" stroke-width="0.9"/>
<circle cx="334.6" cy="238.7" r="1.35" fill="none" stroke="#2a2a2a" stroke-width="0.9"/>
<circle cx="339.5" cy="239.6" r="1.35" fill="none" stroke="#2a2a2a" stroke-width="0.9"/>
<circle cx="343.2" cy="237.4" r="1.35" fill="none" stroke="#2a2a2a" stroke-width="0.9"/>
<circle cx="337.7" cy="243.7" r="1.35" fill="none" stroke="#2a2a2a" stroke-width="0.9"/>
<line x1="326.2" y1="311.6" x2="350.7" y2="311.6" stroke="#000" stroke-width="1.5"/>
<text x="339.3" y="324.9" font-family="Liberation Sans" font-size="10.2" font-weight="normal" text-anchor="middle" fill="#111" textLength="23.1" lengthAdjust="spacingAndGlyphs" stroke="#111" stroke-width="0.12"><tspan font-size="8.6">+</tspan>LPS</text>
</g></svg>
</body></html>
